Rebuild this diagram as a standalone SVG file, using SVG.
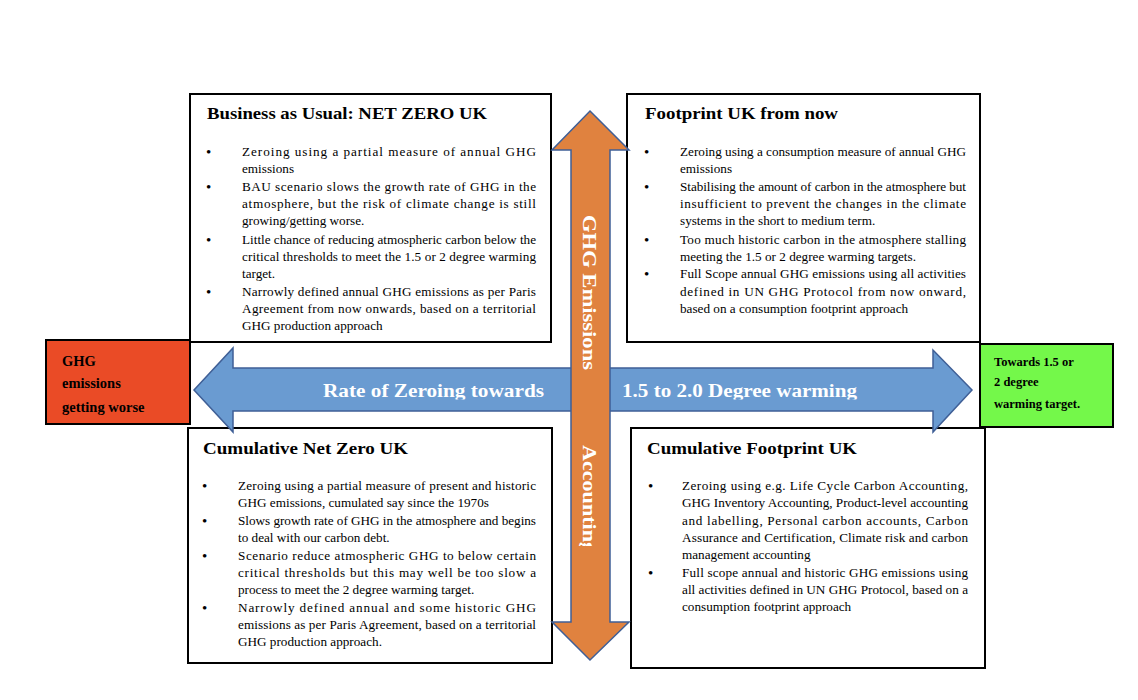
<svg xmlns="http://www.w3.org/2000/svg" width="1138" height="700" viewBox="0 0 1138 700">
<style>
.box{fill:#fff;stroke:#000;stroke-width:2}
.t{font-family:"Palatino Linotype","Book Antiqua","Liberation Serif",serif;font-size:13.2px;fill:#000}
.h{font-family:"Palatino Linotype","Book Antiqua","Liberation Serif",serif;font-size:17.5px;font-weight:bold;fill:#000}
.b{font-family:"Liberation Serif",serif;font-size:15px;fill:#000}
.s{font-family:"Palatino Linotype","Book Antiqua","Liberation Serif",serif;font-weight:bold;fill:#000}
.w{font-family:"Palatino Linotype","Book Antiqua","Liberation Serif",serif;font-weight:bold;fill:#fff;font-size:18px}
.blue{fill:#6A9BD1;stroke:#3F5F96;stroke-width:1.5}
.orange{fill:#E0823F;stroke:#3F5F96;stroke-width:1.5}
</style>
<defs>
<clipPath id="hclip"><rect x="190" y="360" width="800" height="39.5"/></clipPath>
<clipPath id="vclip"><rect x="560" y="150" width="60" height="396"/></clipPath>
</defs>
<rect width="1138" height="700" fill="#fff"/>

<g id="box-bau">
<rect class="box" x="190" y="94" width="361" height="248"/>
<text class="h" x="207" y="119" textLength="280" lengthAdjust="spacingAndGlyphs">Business as Usual: NET ZERO UK</text>
<text class="b" x="206" y="157">•</text>
<text class="t" x="242" y="156" textLength="294" lengthAdjust="spacing">Zeroing using a partial measure of annual GHG</text>
<text class="t" x="242" y="173">emissions</text>
<text class="b" x="206" y="192">•</text>
<text class="t" x="242" y="191" textLength="294" lengthAdjust="spacing">BAU scenario slows the growth rate of GHG in the</text>
<text class="t" x="242" y="208" textLength="294" lengthAdjust="spacing">atmosphere, but the risk of climate change is still</text>
<text class="t" x="242" y="225">growing/getting worse.</text>
<text class="b" x="206" y="245">•</text>
<text class="t" x="242" y="244" textLength="294" lengthAdjust="spacing">Little chance of reducing atmospheric carbon below the</text>
<text class="t" x="242" y="261" textLength="294" lengthAdjust="spacing">critical thresholds to meet the 1.5 or 2 degree warming</text>
<text class="t" x="242" y="278">target.</text>
<text class="b" x="206" y="297">•</text>
<text class="t" x="242" y="296" textLength="294" lengthAdjust="spacing">Narrowly defined annual GHG emissions as per Paris</text>
<text class="t" x="242" y="313" textLength="294" lengthAdjust="spacing">Agreement from now onwards, based on a territorial</text>
<text class="t" x="242" y="330">GHG production approach</text>
</g>

<g id="box-footprint">
<rect class="box" x="627" y="94" width="353" height="248"/>
<text class="h" x="645" y="119" textLength="193" lengthAdjust="spacingAndGlyphs">Footprint UK from now</text>
<text class="b" x="644" y="157">•</text>
<text class="t" x="680" y="156" textLength="286" lengthAdjust="spacing">Zeroing using a consumption measure of annual GHG</text>
<text class="t" x="680" y="173">emissions</text>
<text class="b" x="644" y="192">•</text>
<text class="t" x="680" y="191" textLength="286" lengthAdjust="spacing">Stabilising the amount of carbon in the atmosphere but</text>
<text class="t" x="680" y="208" textLength="286" lengthAdjust="spacing">insufficient to prevent the changes in the climate</text>
<text class="t" x="680" y="225">systems in the short to medium term.</text>
<text class="b" x="644" y="245">•</text>
<text class="t" x="680" y="244" textLength="286" lengthAdjust="spacing">Too much historic carbon in the atmosphere stalling</text>
<text class="t" x="680" y="261">meeting the 1.5 or 2 degree warming targets.</text>
<text class="b" x="644" y="279">•</text>
<text class="t" x="680" y="278" textLength="286" lengthAdjust="spacing">Full Scope annual GHG emissions using all activities</text>
<text class="t" x="680" y="296" textLength="286" lengthAdjust="spacing">defined in UN GHG Protocol from now onward,</text>
<text class="t" x="680" y="313">based on a consumption footprint approach</text>
</g>

<g id="box-cumnetzero">
<rect class="box" x="188" y="428" width="364" height="235"/>
<text class="h" x="203" y="454" textLength="205" lengthAdjust="spacingAndGlyphs">Cumulative Net Zero UK</text>
<text class="b" x="202" y="491">•</text>
<text class="t" x="238" y="490" textLength="298" lengthAdjust="spacing">Zeroing using a partial measure of present and historic</text>
<text class="t" x="238" y="507">GHG emissions, cumulated say since the 1970s</text>
<text class="b" x="202" y="526">•</text>
<text class="t" x="238" y="525" textLength="298" lengthAdjust="spacing">Slows growth rate of GHG in the atmosphere and begins</text>
<text class="t" x="238" y="542">to deal with our carbon debt.</text>
<text class="b" x="202" y="561">•</text>
<text class="t" x="238" y="560" textLength="298" lengthAdjust="spacing">Scenario reduce atmospheric GHG to below certain</text>
<text class="t" x="238" y="577" textLength="298" lengthAdjust="spacing">critical thresholds but this may well be too slow a</text>
<text class="t" x="238" y="594">process to meet the 2 degree warming target.</text>
<text class="b" x="202" y="613">•</text>
<text class="t" x="238" y="612" textLength="298" lengthAdjust="spacing">Narrowly defined annual and some historic GHG</text>
<text class="t" x="238" y="629" textLength="298" lengthAdjust="spacing">emissions as per Paris Agreement, based on a territorial</text>
<text class="t" x="238" y="646">GHG production approach.</text>
</g>

<g id="box-cumfootprint">
<rect class="box" x="631" y="428" width="354" height="240"/>
<text class="h" x="647" y="454" textLength="210" lengthAdjust="spacingAndGlyphs">Cumulative Footprint UK</text>
<text class="b" x="648" y="491">•</text>
<text class="t" x="682" y="490" textLength="286" lengthAdjust="spacing">Zeroing using e.g. Life Cycle Carbon Accounting,</text>
<text class="t" x="682" y="507" textLength="286" lengthAdjust="spacing">GHG Inventory Accounting, Product-level accounting</text>
<text class="t" x="682" y="525" textLength="286" lengthAdjust="spacing">and labelling, Personal carbon accounts, Carbon</text>
<text class="t" x="682" y="542" textLength="286" lengthAdjust="spacing">Assurance and Certification, Climate risk and carbon</text>
<text class="t" x="682" y="559">management accounting</text>
<text class="b" x="648" y="578">•</text>
<text class="t" x="682" y="577" textLength="286" lengthAdjust="spacing">Full scope annual and historic GHG emissions using</text>
<text class="t" x="682" y="594" textLength="286" lengthAdjust="spacing">all activities defined in UN GHG Protocol, based on a</text>
<text class="t" x="682" y="611">consumption footprint approach</text>
</g>

<g id="connectors">
<g id="arrow-left">
<polygon class="blue" points="194,390 233,348 233,368 575,368 575,411 233,411 233,432"/>
<text class="w" x="323" y="397" textLength="221" lengthAdjust="spacingAndGlyphs" clip-path="url(#hclip)">Rate of Zeroing towards</text>
</g>
<g id="arrow-right">
<polygon class="blue" points="972,390 933,350 933,368 605,368 605,411 933,411 933,432"/>
<text class="w" x="622" y="397" textLength="235" lengthAdjust="spacingAndGlyphs" clip-path="url(#hclip)">1.5 to 2.0 Degree warming</text>
</g>
<g id="arrow-vertical">
<polygon class="orange" points="590,111 629,150 610,150 610,622 629,622 590,660 552,622 571,622 571,150 552,150"/>
<g clip-path="url(#vclip)">
<text class="w" transform="translate(583,215) rotate(90)" x="0" y="0" font-size="17" textLength="155" lengthAdjust="spacingAndGlyphs">GHG  Emissions</text>
<text class="w" transform="translate(583,445) rotate(90)" x="0" y="0" font-size="17" textLength="108" lengthAdjust="spacingAndGlyphs">Accounting</text>
</g>
</g>
</g>

<g id="box-worse">
<rect x="46" y="340" width="144" height="84" fill="#EA4B26" stroke="#000" stroke-width="2"/>
<text class="s" x="62" y="366" font-size="14.5">GHG</text>
<text class="s" x="62" y="388" font-size="14.5">emissions</text>
<text class="s" x="62" y="412" font-size="14.5">getting worse</text>
</g>

<g id="box-target">
<rect x="980" y="344" width="133" height="83" fill="#74F84A" stroke="#000" stroke-width="2"/>
<text class="s" x="994" y="366" font-size="12.5">Towards 1.5 or</text>
<text class="s" x="994" y="386" font-size="12.5">2 degree</text>
<text class="s" x="994" y="408" font-size="12.5">warming target.</text>
</g>
</svg>
